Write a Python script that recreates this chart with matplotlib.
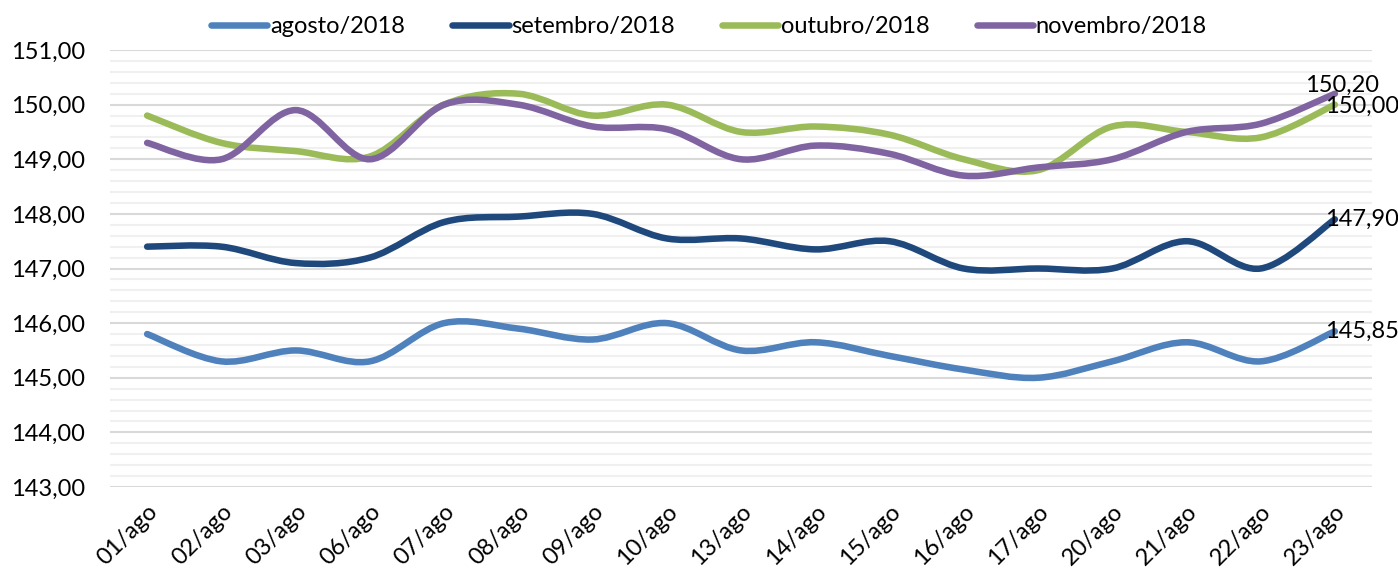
import numpy as np
import matplotlib.pyplot as plt
from matplotlib.path import Path
from matplotlib.patches import PathPatch
from matplotlib.lines import Line2D

dias = ["01/ago", "02/ago", "03/ago", "06/ago", "07/ago", "08/ago", "09/ago", "10/ago",
        "13/ago", "14/ago", "15/ago", "16/ago", "17/ago", "20/ago", "21/ago", "22/ago", "23/ago"]

agosto = [145.80, 145.30, 145.50, 145.30, 146.00, 145.90, 145.70, 146.00, 145.50,
          145.65, 145.40, 145.15, 145.00, 145.30, 145.65, 145.30, 145.85]
setembro = [147.40, 147.40, 147.10, 147.20, 147.85, 147.95, 148.00, 147.55, 147.55,
            147.35, 147.50, 147.00, 147.00, 147.00, 147.50, 147.00, 147.90]
outubro = [149.80, 149.30, 149.15, 149.05, 150.00, 150.20, 149.80, 150.00, 149.50,
           149.60, 149.45, 149.00, 148.80, 149.60, 149.50, 149.40, 150.00]
novembro = [149.30, 149.00, 149.90, 149.00, 150.00, 150.00, 149.60, 149.55, 149.00,
            149.25, 149.10, 148.70, 148.85, 149.00, 149.50, 149.65, 150.20]

series = [("agosto/2018", agosto, "#4F81BD"),
          ("setembro/2018", setembro, "#1F497D"),
          ("outubro/2018", outubro, "#9BBB59"),
          ("novembro/2018", novembro, "#8064A2")]

plt.rcParams['font.family'] = ['Lato', 'DejaVu Sans']
fs = 17


def smooth_path(x, y):
    # linha suavizada tipo excel: bezier cubica passando pelos pontos
    x = np.asarray(x, float)
    y = np.asarray(y, float)
    n = len(x)
    verts = [(x[0], y[0])]
    codes = [Path.MOVETO]
    for i in range(n - 1):
        x0, y0 = (x[i - 1], y[i - 1]) if i > 0 else (x[i], y[i])
        x3, y3 = (x[i + 2], y[i + 2]) if i + 2 < n else (x[i + 1], y[i + 1])
        c1 = (x[i] + (x[i + 1] - x0) / 6, y[i] + (y[i + 1] - y0) / 6)
        c2 = (x[i + 1] - (x3 - x[i]) / 6, y[i + 1] - (y3 - y[i]) / 6)
        verts += [c1, c2, (x[i + 1], y[i + 1])]
        codes += [Path.CURVE4] * 3
    return Path(verts, codes)


fig = plt.figure(figsize=(13.98, 5.73), dpi=100)
ax = fig.add_axes([0.0787, 0.1501, 0.9027, 0.7626])

xs = np.arange(len(dias))
handles = []
for nome, vals, cor in series:
    ax.add_patch(PathPatch(smooth_path(xs, vals), facecolor="none", edgecolor=cor,
                           lw=4.7, capstyle="round", zorder=3))
    handles.append(Line2D([], [], color=cor, lw=4.7, solid_capstyle="round"))

maiores = np.arange(143, 151.01, 1)
ax.set_xlim(-0.5, len(dias) - 0.5)
ax.set_ylim(143, 151)
ax.set_yticks(maiores)
ax.set_yticks(np.arange(143, 151.01, 0.2), minor=True)
ax.set_yticklabels([("%.2f" % v).replace(".", ",") for v in maiores])
ax.set_xticks(xs)
ax.set_xticklabels(dias, rotation=45, ha="right", rotation_mode="anchor")
ax.tick_params(axis="both", which="both", length=0, labelsize=fs)
ax.tick_params(axis="y", pad=18)
ax.tick_params(axis="x", pad=10)
ax.grid(True, axis="y", which="minor", color="#F0F0F0", lw=1.5, zorder=0)
ax.grid(True, axis="y", which="major", color="#D9D9D9", lw=1.5, zorder=1)
for s in ax.spines.values():
    s.set_visible(False)

# rotulos do ultimo ponto
ultimo = len(dias) - 1
rotulos = [(agosto[-1], (-7, 0), "left", "center"),
           (setembro[-1], (-7, 0), "left", "center"),
           (outubro[-1], (-7, -1), "left", "center"),
           (novembro[-1], (5, 6), "center", "center")]
for v, off, ha, va in rotulos:
    ax.annotate(("%.2f" % v).replace(".", ","), (ultimo, v), xytext=off,
                textcoords="offset points", ha=ha, va=va, fontsize=fs,
                color="black", zorder=5, annotation_clip=False)

fig.legend(handles, [s[0] for s in series], loc="center", bbox_to_anchor=(0.507, 0.953),
           ncol=4, frameon=False, fontsize=fs, handlelength=2.4, handletextpad=0.1,
           columnspacing=2.0)

fig.savefig("out.png")
